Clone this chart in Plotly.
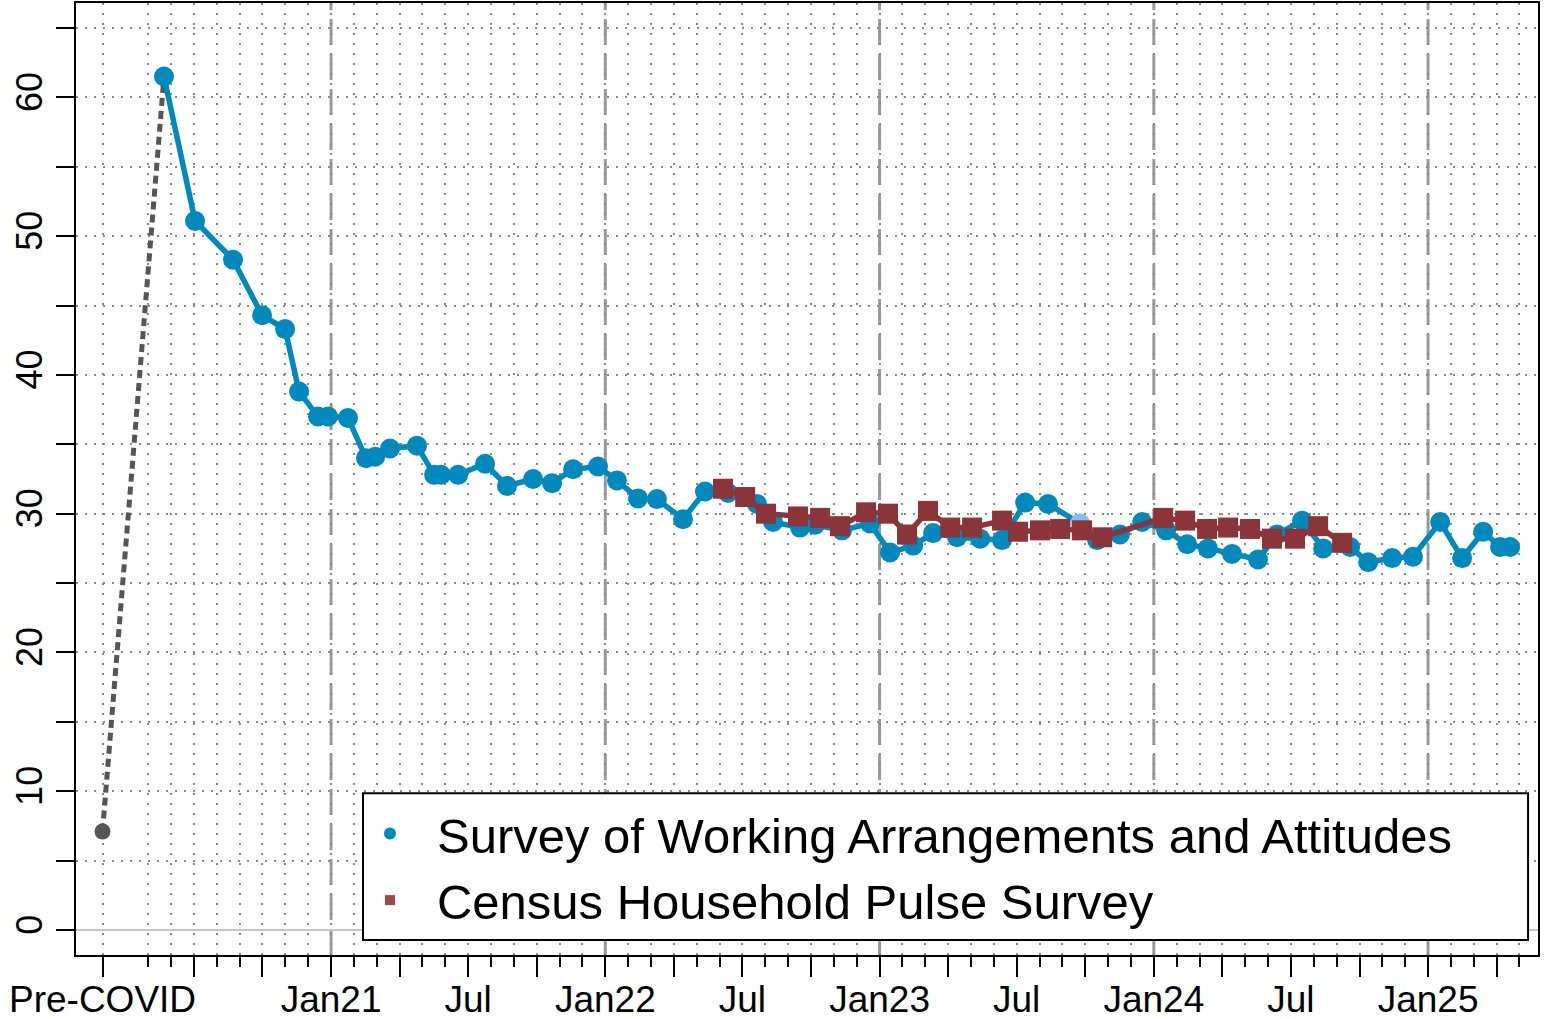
import plotly.graph_objects as go

# ---------------- data ----------------
# x positions: months since Jan 2020 (Jan 2020 = 0, Jan 2021 = 12, ...)
precovid_x = [2.0]
precovid_y = [7.1]

swaa_x = [4.69, 6.05, 7.71, 8.98, 9.99, 10.60, 11.43, 11.87, 12.74, 13.53, 13.93,
          14.58, 15.76, 16.51, 16.81, 17.56, 18.74, 19.70, 20.84, 21.67, 22.59,
          23.68, 24.51, 25.43, 26.26, 27.40, 28.36, 29.37, 30.64, 31.34, 32.52,
          33.18, 34.36, 35.58, 36.46, 37.47, 38.34, 39.39, 40.40, 41.36, 42.37,
          43.37, 44.77, 45.52, 46.52, 47.49, 48.54, 49.46, 50.37, 51.42, 52.56,
          53.39, 54.49, 55.41, 56.59, 57.38, 58.43, 59.34, 60.53, 61.49, 62.41,
          63.15, 63.59]
swaa_y = [61.5, 51.1, 48.3, 44.3, 43.3, 38.8, 37.0, 37.0, 36.9, 34.0, 34.1,
          34.7, 34.9, 32.8, 32.8, 32.8, 33.6, 32.0, 32.5, 32.2, 33.2,
          33.4, 32.4, 31.1, 31.05, 29.6, 31.6, 31.5, 30.7, 29.4, 29.0,
          29.2, 28.8, 29.3, 27.2, 27.7, 28.6, 28.3, 28.2, 28.1, 30.8,
          30.7, 29.3, 28.1, 28.5, 29.4, 28.8, 27.8, 27.5, 27.1, 26.7,
          28.5, 29.5, 27.5, 27.6, 26.5, 26.8, 26.9, 29.4, 26.8, 28.7,
          27.6, 27.6]

pulse_x = [29.15, 30.12, 31.03, 32.43, 33.40, 34.27, 35.41, 36.37, 37.20, 38.12,
           39.09, 40.05, 41.36, 42.06, 43.02, 43.90, 44.86, 45.74, 48.41, 49.37,
           50.33, 51.25, 52.21, 53.17, 54.18, 55.19, 56.24]
pulse_y = [31.8, 31.2, 30.0, 29.8, 29.7, 29.1, 30.1, 30.0, 28.5, 30.2,
           29.0, 29.0, 29.5, 28.7, 28.8, 28.9, 28.8, 28.3, 29.7, 29.5,
           28.9, 29.0, 28.9, 28.2, 28.2, 29.1, 27.9]

# axis ticks (months since Jan 2020)
major_tick_vals = [2, 6, 9, 12, 15, 18, 21, 24, 27, 30, 33, 36, 39, 42, 45, 48, 51, 54, 57, 60, 63]
major_tick_text = ["Pre-COVID", "", "", "Jan21", "", "Jul", "", "Jan22", "", "Jul", "",
                   "Jan23", "", "Jul", "", "Jan24", "", "Jul", "", "Jan25", ""]
minor_tick_vals = [m for m in range(4, 65) if m not in major_tick_vals]
year_lines = [12, 24, 36, 48, 60]
y_tick_vals = list(range(0, 70, 5))
y_tick_text = [str(v) if v % 10 == 0 else "" for v in y_tick_vals]

series_names = ["Survey of Working Arrangements and Attitudes", "Census Household Pulse Survey"]

# ---------------- styling ----------------
BLUE = "#0089BD"
LIGHT_BLUE = "#85C1E9"
RED = "#8B3439"
GREY = "#555555"
FONT = "Liberation Sans, Arial, Helvetica, sans-serif"

swaa_colors = [BLUE] * len(swaa_x)
swaa_colors[swaa_x.index(44.77)] = LIGHT_BLUE

fig = go.Figure()

# dotted connector from pre-COVID to first survey point
fig.add_trace(go.Scatter(
    x=[precovid_x[0], swaa_x[0]], y=[precovid_y[0], swaa_y[0]],
    mode="lines", line=dict(color=GREY, width=5, dash="8px,5px"),
    showlegend=False, hoverinfo="skip"))
fig.add_trace(go.Scatter(
    x=precovid_x, y=precovid_y, mode="markers",
    marker=dict(color=GREY, size=16), showlegend=False))

fig.add_trace(go.Scatter(
    x=swaa_x, y=swaa_y, mode="lines+markers",
    line=dict(color=BLUE, width=5.5),
    marker=dict(color=swaa_colors, size=20, symbol="circle", line=dict(width=0)),
    showlegend=False, name=series_names[0]))

fig.add_trace(go.Scatter(
    x=pulse_x, y=pulse_y, mode="lines+markers",
    line=dict(color=RED, width=5.5),
    marker=dict(color=RED, size=20, symbol="square", line=dict(width=0)),
    showlegend=False, name=series_names[1]))

# legend entries (markers only)
fig.add_trace(go.Scatter(x=[None], y=[None], mode="markers", name=series_names[0],
                         marker=dict(color=BLUE, size=12, symbol="circle")))
fig.add_trace(go.Scatter(x=[None], y=[None], mode="markers", name=series_names[1],
                         marker=dict(color="#A0474C", size=10, symbol="square")))

# year dashed lines
for xv in year_lines:
    fig.add_shape(type="line", xref="x", yref="paper", x0=xv, x1=xv, y0=0, y1=1,
                  line=dict(color="#9A9A9A", width=3, dash="26px,9px"), layer="below")

# legend box
fig.add_shape(type="rect", xref="paper", yref="paper",
              x0=0.1963, x1=0.9932, y0=0.0158, y1=0.170,
              line=dict(color="black", width=2), fillcolor="white", layer="above")

fig.update_layout(
    width=1545, height=1019,
    margin=dict(l=76, r=7, t=3, b=64, autoexpand=False),
    paper_bgcolor="white", plot_bgcolor="white",
    font=dict(family=FONT, color="black"),
    legend=dict(
        x=0.1826, y=0.168, xanchor="left", yanchor="top",
        bgcolor="rgba(0,0,0,0)", borderwidth=0,
        font=dict(size=49, family=FONT, color="black"),
        itemsizing="trace", itemwidth=84, tracegroupgap=0,
    ),
    xaxis=dict(
        range=[0.84, 64.81], automargin=False,
        tickmode="array", tickvals=major_tick_vals, ticktext=major_tick_text,
        ticks="outside", ticklen=20, tickwidth=2, tickcolor="black",
        ticklabelstandoff=-9,
        tickfont=dict(size=37, family=FONT, color="black"),
        showgrid=True, gridcolor="#8a8a8a", griddash="2px,8px", gridwidth=1.5,
        minor=dict(tickmode="array", tickvals=minor_tick_vals, ticks="outside",
                   ticklen=10, tickwidth=2, tickcolor="black",
                   showgrid=True, gridcolor="#8a8a8a", griddash="2px,8px", gridwidth=1.5),
        showline=True, linecolor="black", linewidth=2, mirror=True,
        zeroline=False,
    ),
    yaxis=dict(
        range=[-1.8, 66.8], automargin=False,
        tickmode="array", tickvals=y_tick_vals, ticktext=y_tick_text,
        ticks="outside", ticklen=18, tickwidth=2, tickcolor="black",
        tickangle=-90,
        tickfont=dict(size=36, family=FONT, color="black"),
        showgrid=True, gridcolor="#8a8a8a", griddash="2px,7px", gridwidth=1.5,
        showline=True, linecolor="black", linewidth=2, mirror=True,
        zeroline=True, zerolinecolor="#C4C4C4", zerolinewidth=2,
    ),
)

fig.write_html("out.html", config={"displayModeBar": False},
               post_script="document.body.style.margin='0';document.body.style.overflow='hidden';")
